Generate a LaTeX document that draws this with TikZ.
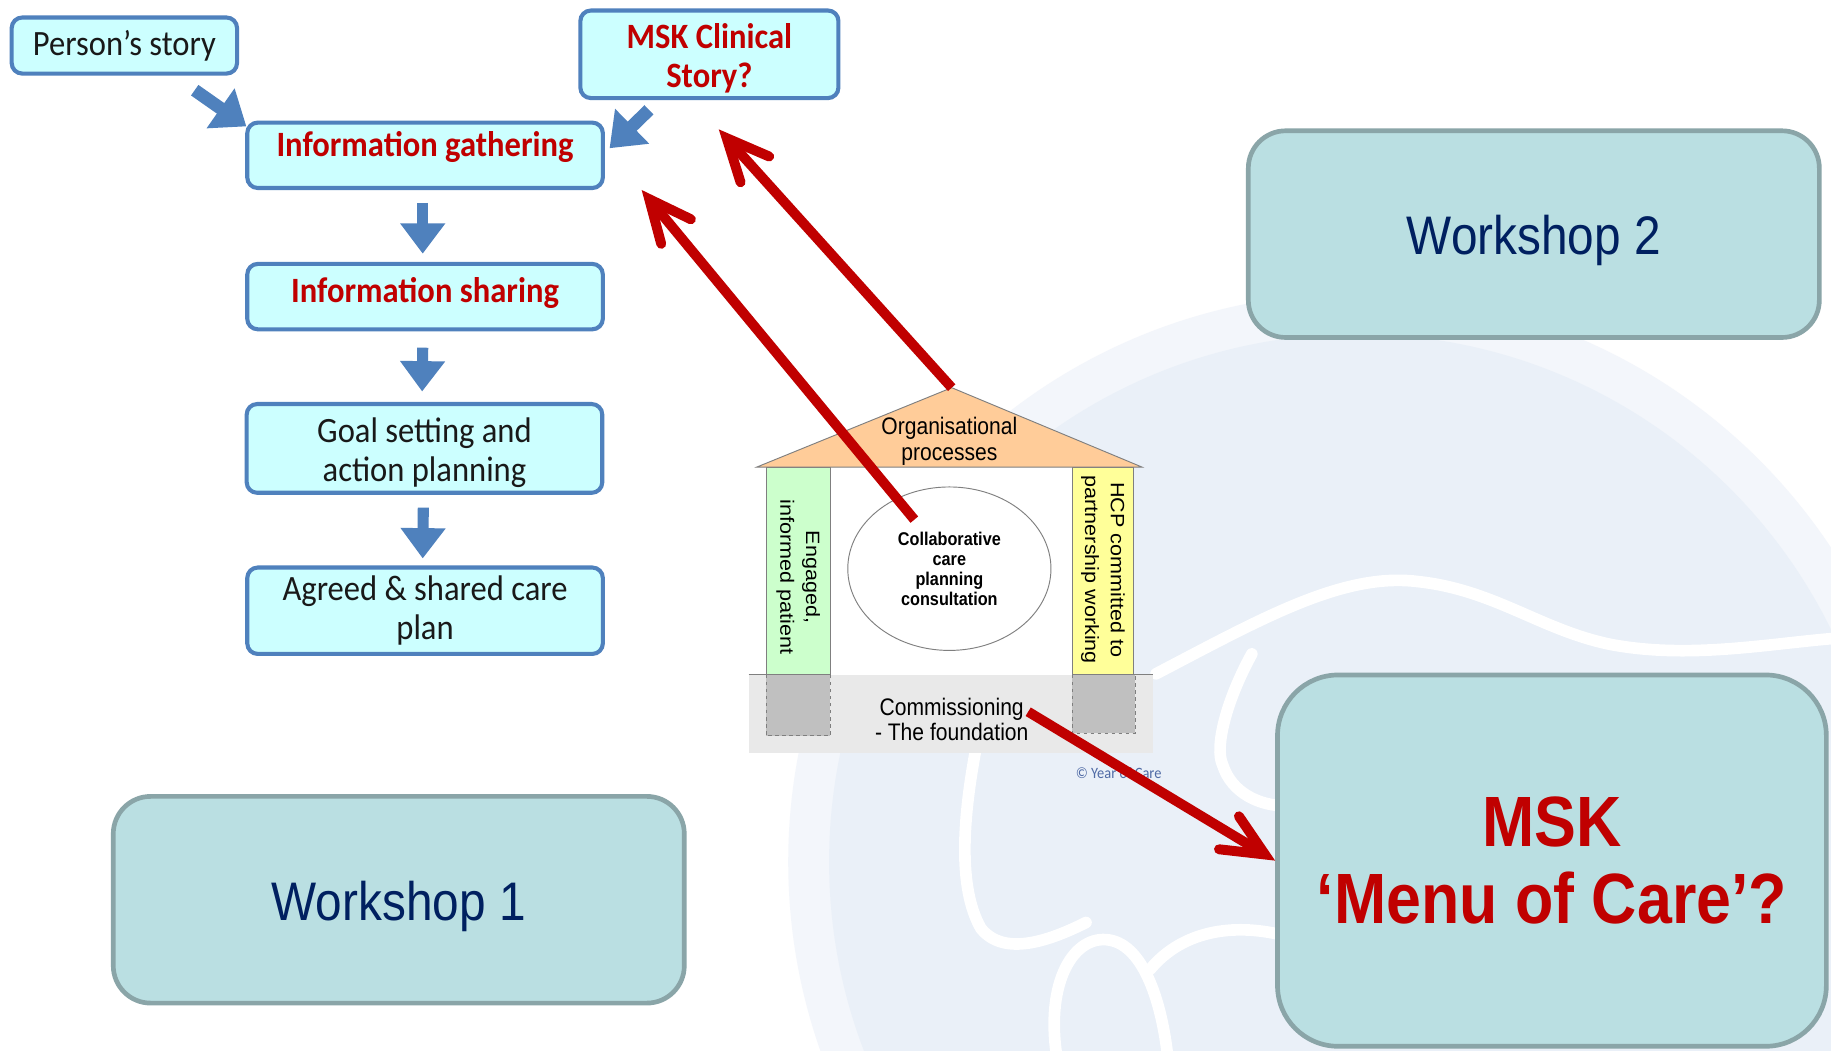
\documentclass[tikz,border=0pt]{standalone}
\usepackage{fontspec}
\newfontfamily\calfont{Carlito}[FakeStretch=0.915]
\newfontfamily\arfont{Liberation Sans}[FakeStretch=0.88]
\newfontfamily\arwide{Liberation Sans}[FakeStretch=1.12]
\usetikzlibrary{arrows.meta,shapes.geometric}

\definecolor{cyanfill}{HTML}{CCFFFF}
\definecolor{flowblue}{HTML}{4F81BD}
\definecolor{darkred}{HTML}{C00000}
\definecolor{tealfill}{HTML}{BADFE2}
\definecolor{tealedge}{HTML}{8AA5A8}
\definecolor{navy}{HTML}{002060}
\definecolor{roofpeach}{HTML}{FFCC99}
\definecolor{pillargreen}{HTML}{CCFFCC}
\definecolor{pillaryellow}{HTML}{FFFF99}
\definecolor{basegray}{HTML}{E9E9E9}
\definecolor{footgray}{HTML}{C0C0C0}
\definecolor{edgegray}{HTML}{7F7F7F}
\definecolor{copyblue}{HTML}{4F6AA5}
\definecolor{globeouter}{HTML}{F3F6FB}
\definecolor{globeinner}{HTML}{EAF0F8}

% move a label up or down inside its box without changing the box size
\newcommand{\nudge}[2]{\raisebox{#1}[\height][\depth]{#2}}

\begin{document}
\begin{tikzpicture}[x=1pt,y=-1pt,
  flowbox/.style={draw=flowblue, line width=3.5pt, fill=cyanfill, rounded corners=9pt,
    minimum width=304.5pt, align=center, inner sep=0pt, text=black!90,
    font=\calfont\fontsize{30.5}{33}\selectfont},
  redtext/.style={text=darkred, font=\calfont\bfseries\fontsize{30.5}{33}\selectfont},
  flowarrow/.style={draw=flowblue, line width=9.5pt, -{Triangle[length=26pt, width=37pt]}},
  diagarrow/.style={draw=flowblue, line width=11pt, -{Triangle[length=27pt, width=40pt]}},
  tealbox/.style={draw=tealedge, line width=4pt, fill=tealfill, rounded corners=32pt,
    inner sep=0pt, align=center, text=navy, font=\arfont\fontsize{46.5}{50}\selectfont},
  redarrow/.style={draw=darkred, line width=8.5pt,
    -{Straight Barb[length=36pt, width=33pt, line cap=round, line join=miter]}},
  housetext/.style={align=center, inner sep=0pt, text=black,
    font=\arfont\fontsize{20.5}{22}\selectfont},
  housebold/.style={align=center, inner sep=0pt, text=black,
    font=\arfont\bfseries\fontsize{15.8}{17}\selectfont},
  pillartext/.style={align=center, inner sep=0pt, rotate=-90, text=black,
    font=\arwide\fontsize{16.5}{22}\selectfont},
  footbox/.style={fill=footgray, draw=edgegray, dashed, line width=0.8pt},
  wallline/.style={draw=edgegray, line width=0.8pt},
  globeline/.style={draw=white, line width=10pt, line cap=round},
]
\useasboundingbox (0,0) rectangle (1568,900);
\fill[white] (0,0) rectangle (1568,900);

% faint globe watermark
\begin{scope}
  \clip (0,0) rectangle (1568,900);
  \fill[globeouter] (1162,738) circle[radius=487pt];
  \fill[globeinner] (1162,738) circle[radius=452pt];
  \draw[globeline] (990,577) .. controls (1080,530) and (1150,490) .. (1214,498)
    .. controls (1280,505) and (1320,540) .. (1380,552)
    .. controls (1450,565) and (1520,550) .. (1580,546);
  \draw[globeline] (1072,560) .. controls (1050,600) and (1040,640) .. (1047,655)
    .. controls (1055,680) and (1080,690) .. (1100,690);
  \draw[globeline] (835,645) .. controls (825,700) and (820,760) .. (840,795)
    .. controls (860,820) and (900,805) .. (930,790);
  \draw[globeline] (905,905) .. controls (895,840) and (920,800) .. (950,805)
    .. controls (980,810) and (995,860) .. (1000,905);
  \draw[globeline] (985,830) .. controls (1010,800) and (1050,790) .. (1095,800);
\end{scope}

% care planning house
\coordinate (apex) at (815,332);
\fill[basegray] (641,578) rectangle (987,645);
\draw[footbox] (656,578) rectangle (711,630);
\draw[footbox] (918,578) rectangle (972,628);
\draw[wallline] (641,578) -- (987,578);
\fill[white] (711,400) rectangle (918,578);
\filldraw[fill=pillargreen, wallline] (656,400) rectangle (711,578);
\filldraw[fill=pillaryellow, wallline] (918,400) rectangle (971,578);
\filldraw[fill=roofpeach, wallline] (648,400) -- (apex) -- (978,400) -- cycle;
\node[ellipse, draw=edgegray, line width=0.8pt, fill=white, minimum width=174pt,
  minimum height=140pt, inner sep=0pt, housebold] (ccp) at (813,487)
  {Collaborative\\care\\planning\\consultation};
\node[housetext] (org) at (813,378) {Organisational\\processes};
\node[pillartext] (pat) at (683.5,494) {Engaged,\\informed patient};
\node[pillartext] (hcp) at (944.5,488) {HCP committed to\\partnership working};
\node[housetext] (comm) at (815,616) {Commissioning\\- The foundation};
\node[inner sep=0pt, text=copyblue, font=\calfont\fontsize{13.5}{14}\selectfont]
  (copy) at (958,662) {© Year of Care};

% consultation flow
\node[flowbox, minimum width=193pt, minimum height=48pt] (ps) at (106.5,39) {Person’s story};
\node[flowbox, redtext, minimum width=221pt, minimum height=75pt] (msk) at (607.5,46.5)
  {\nudge{-5pt}{\begin{tabular}{@{}c@{}}MSK Clinical\\[0pt]Story?\end{tabular}}};
\node[flowbox, redtext, minimum height=56pt] (ig) at (364,133)
  {\nudge{7.5pt}{Information gathering}};
\node[flowbox, redtext, minimum height=56pt] (is) at (364,254)
  {\nudge{3pt}{Information sharing}};
\node[flowbox, minimum height=76pt] (goal) at (363.5,384)
  {\nudge{-5pt}{\begin{tabular}{@{}c@{}}Goal setting and\\[0pt]action planning\end{tabular}}};
\node[flowbox, minimum height=74pt] (agreed) at (364,523) {Agreed \& shared care\\plan};

\draw[flowarrow] ([shift={(-2,11)}]ig.south) -- ([shift={(-2,-7)}]is.north);
\draw[flowarrow] ([shift={(-2,14)}]is.south) -- ([shift={(-2,-9)}]goal.north);
\draw[flowarrow] ([shift={(-1,11)}]goal.south) -- ([shift={(-2,-6)}]agreed.north);
\draw[diagarrow] ([shift={(-38,12.5)}]ps.south east) -- ([shift={(1,5)}]ig.north west);
\draw[diagarrow] ([shift={(60.5,8.3)}]msk.south west) -- ([shift={(4,23.7)}]ig.north east);

% workshop boxes
\node[tealbox, minimum width=489pt, minimum height=177pt] (w2) at (1313.5,200.5)
  {\nudge{-5pt}{Workshop 2}};
\node[tealbox, minimum width=489pt, minimum height=177pt] (w1) at (341.5,770.5)
  {\nudge{-6pt}{Workshop 1}};
\node[tealbox, rounded corners=52pt, minimum width=470pt, minimum height=318pt,
  text=darkred, font=\arfont\bfseries\fontsize{61}{66}\selectfont] (menu) at (1329,737)
  {MSK\\‘Menu of Care’?};

% links from the house
\draw[redarrow] (apex) -- ([shift={(8,25)}]msk.south);
\draw[redarrow] ([shift={(-30,-42)}]ccp.center) -- ([shift={(31.5,29.7)}]ig.east);
\draw[redarrow] ([shift={(65.5,-6.5)}]comm.center) -- (menu.west);
\end{tikzpicture}
\end{document}
